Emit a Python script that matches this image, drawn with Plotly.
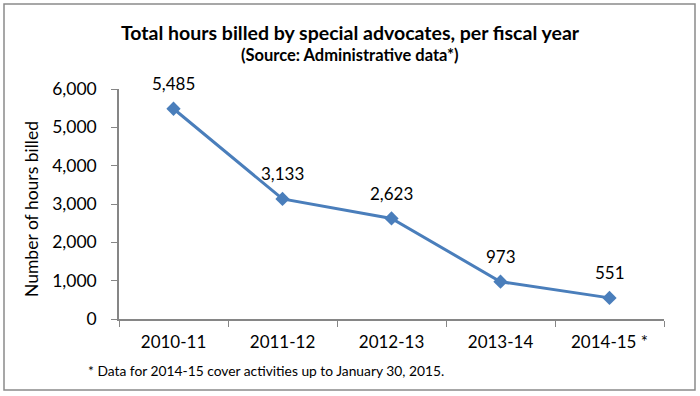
import plotly.graph_objects as go

categories = ["2010-11", "2011-12", "2012-13", "2013-14", "2014-15 *"]
hours = [5485, 3133, 2623, 973, 551]
y_ticks = [0, 1000, 2000, 3000, 4000, 5000, 6000]

FONT = "Lato"
LINE = "#4a7ebb"
AXIS = "#868686"

L, R, T, B = 119, 36, 89, 77
W, H = 700, 396
PW, PH = W - L - R, H - T - B


def px(x):
    return (x - L) / PW


def py(y):
    return (H - B - y) / PH


fig = go.Figure()
fig.add_trace(go.Scatter(
    x=categories, y=hours, mode="lines+markers",
    line=dict(color=LINE, width=3),
    marker=dict(symbol="diamond", size=11, color=LINE),
    cliponaxis=False, showlegend=False, hoverinfo="skip",
))

anns = []
for c, v in zip(categories, hours):
    anns.append(dict(x=c, y=v, text=f"{v:,}", showarrow=False, yshift=25,
                     font=dict(family=FONT, size=17, color="#000")))

anns += [
    dict(text="<b>Total hours billed by special advocates, per fiscal year</b>",
         xref="paper", yref="paper", x=px(350), y=py(32),
         showarrow=False, font=dict(family=FONT, size=19.5), xanchor="center", yanchor="middle"),
    dict(text="<b>(Source: Administrative data*)</b>",
         xref="paper", yref="paper", x=px(350), y=py(55),
         showarrow=False, font=dict(family=FONT, size=16.5), xanchor="center", yanchor="middle"),
    dict(text="* Data for 2014-15 cover activities up to January 30, 2015.",
         xref="paper", yref="paper", x=px(86), y=py(370),
         showarrow=False, font=dict(family=FONT, size=13.8), xanchor="left", yanchor="middle"),
    dict(text="Number of hours billed", textangle=-90,
         xref="paper", yref="paper", x=px(31), y=py(209),
         showarrow=False, font=dict(family=FONT, size=17.5), xanchor="center", yanchor="middle"),
]

fig.update_layout(
    width=W, height=H,
    margin=dict(l=L, r=R, t=T, b=B),
    paper_bgcolor="white", plot_bgcolor="white",
    font=dict(family=FONT, size=17, color="#000"),
    xaxis=dict(
        type="category", showline=True, linecolor=AXIS, linewidth=1.5,
        ticks="outside", tickson="boundaries", ticklen=6, tickcolor=AXIS,
        showgrid=False, zeroline=False, tickfont=dict(size=17),
        range=[-0.5, 4.5], automargin=False, ticklabelstandoff=7,
    ),
    yaxis=dict(
        range=[0, 6000], tickvals=y_ticks, tickformat=",",
        showline=True, linecolor=AXIS, linewidth=1.5,
        ticks="outside", ticklen=6, tickcolor=AXIS,
        showgrid=False, zeroline=False, tickfont=dict(size=17.5),
        automargin=False, ticklabelstandoff=11,
    ),
    shapes=[dict(type="rect", xref="paper", yref="paper",
                 x0=px(4), x1=px(695), y0=py(390), y1=py(4),
                 line=dict(color="#8a8a8a", width=1.5), layer="below")],
    annotations=anns,
)

fig.write_html("out.html", config={"displayModeBar": False},
               post_script="document.body.style.margin='0';document.body.style.overflow='hidden';")
